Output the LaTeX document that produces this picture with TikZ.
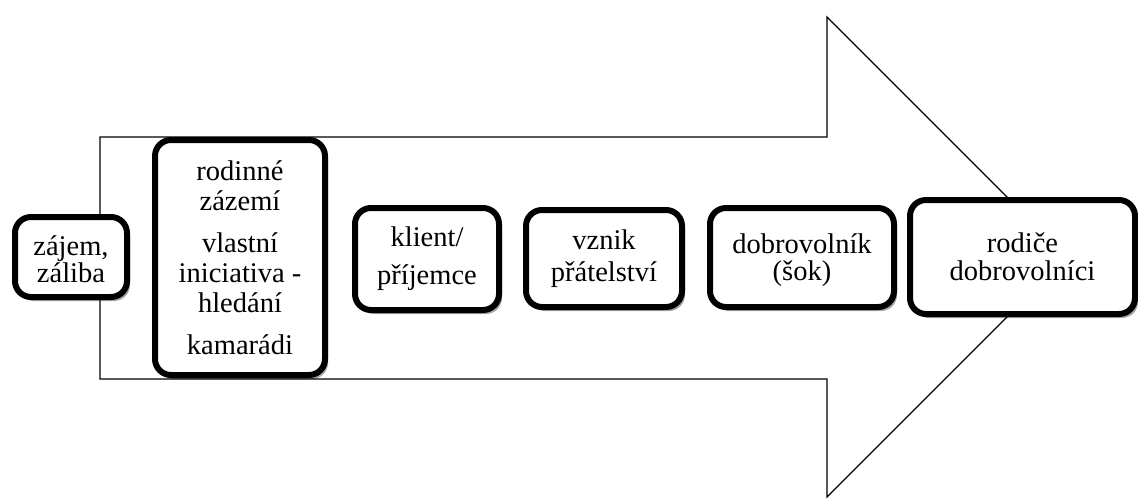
\documentclass[tikz,border=0pt]{standalone}
\usepackage{fontspec}
\setmainfont{Liberation Serif}
\usetikzlibrary{shadows}
\tikzset{
  bigarrow/.style={draw=black, line width=1.2pt, fill=white, line join=miter},
  stage/.style={draw=black, line width=6pt, fill=white, rounded corners=16pt,
    align=center, inner sep=0pt,
    drop shadow={shadow xshift=3pt, shadow yshift=-4pt, opacity=0.35, fill=black}},
}
\begin{document}
\begin{tikzpicture}[x=1pt,y=-1pt]
\useasboundingbox (0,0) rectangle (1138,498);
% big background arrow
\draw[bigarrow] (100,137) -- (827,137) -- (827,17) -- (1067,257) -- (827,497)
  -- (827,379) -- (100,379) -- cycle;
% stages
\node[stage, minimum width=112pt, minimum height=80pt,
  font={\fontsize{28.5}{25}\selectfont}] (s1) at (71,257)
  {\rule{0pt}{24.5pt}zájem,\\záliba};
\node[stage, minimum width=170pt, minimum height=235pt,
  font={\fontsize{28.5}{30}\selectfont}] (s2) at (240,257.5)
  {rodinné\\zázemí\\[12pt]vlastní\\iniciativa -\\hledání\\[12pt]kamarádi};
\node[stage, minimum width=144pt, minimum height=102pt,
  font={\fontsize{28.5}{38}\selectfont}] (s3) at (427,259) {klient/\\příjemce};
\node[stage, minimum width=156pt, minimum height=97pt,
  font={\fontsize{28.5}{32}\selectfont}] (s4) at (604,258.5) {vznik\\přátelství};
\node[stage, minimum width=184pt, minimum height=99pt,
  font={\fontsize{28.5}{27}\selectfont}] (s5) at (802,257.5)
  {\rule{0pt}{24.5pt}dobrovolník\\(šok)};
\node[stage, minimum width=225pt, minimum height=114pt,
  font={\fontsize{28.5}{28}\selectfont}] (s6) at (1022.5,257) {rodiče\\dobrovolníci};
\end{tikzpicture}
\end{document}
